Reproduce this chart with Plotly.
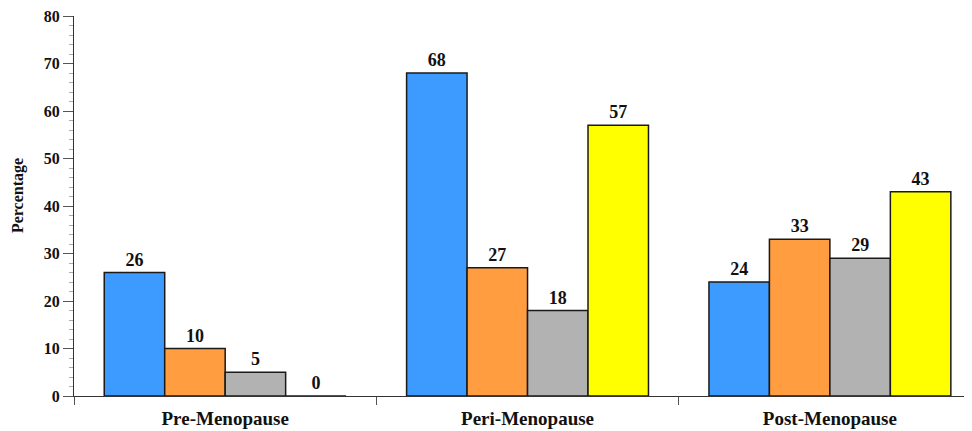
import plotly.graph_objects as go

categories = ["Pre-Menopause", "Peri-Menopause", "Post-Menopause"]
series_names = ["Series 1", "Series 2", "Series 3", "Series 4"]
series_values = [
    [26, 68, 24],
    [10, 27, 33],
    [5, 18, 29],
    [0, 57, 43],
]
colors = ["#3D9BFF", "#FF9D40", "#B2B2B2", "#FFFF00"]
y_ticks = [0, 10, 20, 30, 40, 50, 60, 70, 80]

font_family = "Liberation Serif, Times New Roman, serif"

# page body adds an 8px offset; margins compensate
ML, MT, MR, MB = 66, 8, 8, 43
plot_w = 972 - ML - MR

fig = go.Figure()
for name, vals, col in zip(series_names, series_values, colors):
    fig.add_trace(go.Bar(
        x=categories, y=vals, name=name,
        marker=dict(color=col, line=dict(color="#1a1a1a", width=1.5)),
        text=[str(v) for v in vals], textposition="outside",
        textfont=dict(family=font_family, size=18, color="#111111", weight="bold"),
        cliponaxis=False,
    ))

fig.update_layout(
    width=972, height=431,
    margin=dict(l=ML, r=MR, t=MT, b=MB),
    paper_bgcolor="white", plot_bgcolor="white",
    barmode="group", bargap=0.2, bargroupgap=0,
    showlegend=False,
    font=dict(family=font_family, color="#111111"),
    annotations=[dict(
        text="Percentage", xref="paper", yref="paper", x=(10 - ML) / plot_w, y=0.526,
        xanchor="center", yanchor="middle", textangle=-90, showarrow=False,
        font=dict(family=font_family, size=16, weight="bold", color="#111111"),
    )],
)
fig.update_xaxes(
    type="category", range=[-0.5, 2.47], automargin=False,
    showline=True, linecolor="#333333", linewidth=1.2,
    ticks="outside", tickson="boundaries", ticklen=8, tickcolor="#555555",
    ticklabelstandoff=5,
    tickfont=dict(family=font_family, size=19, weight="bold", color="#111111"),
    showgrid=False, zeroline=False,
)
fig.update_yaxes(
    range=[0, 80], tickvals=y_ticks, automargin=False,
    showline=True, linecolor="#333333", linewidth=1.2,
    ticks="outside", ticklen=10, tickcolor="#555555",
    ticklabeloverflow="allow",
    minor=dict(dtick=2, ticks="outside", ticklen=4, tickcolor="#aaaaaa"),
    tickfont=dict(family=font_family, size=16, weight="bold", color="#111111"),
    showgrid=False, zeroline=False,
)

fig.write_html("out.html")
